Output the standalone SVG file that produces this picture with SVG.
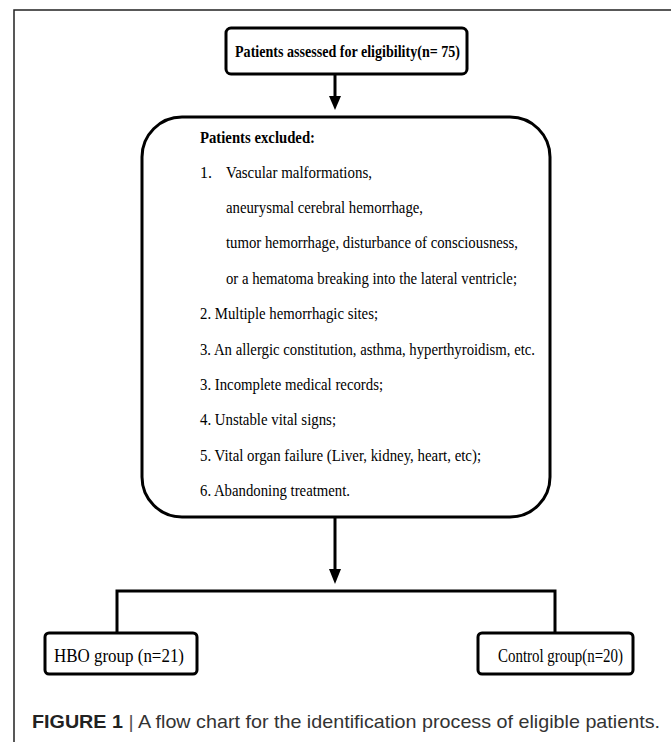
<svg xmlns="http://www.w3.org/2000/svg" width="671" height="742" viewBox="0 0 671 742">
<style>
.box{fill:#fff;stroke:#000;stroke-width:3}
.ln{fill:none;stroke:#000;stroke-width:3}
.t{font-family:"Liberation Serif","Times New Roman",serif;font-size:16px;fill:#000}
.b{font-weight:bold}
.cap{font-family:"Liberation Sans",Arial,sans-serif;font-size:19px;fill:#333}
</style>
<rect x="0" y="0" width="671" height="742" fill="#fff"/>
<path d="M14,742 V10 H671" fill="none" stroke="#222" stroke-width="1.5"/>

<g id="connectors">
<line class="ln" x1="335" y1="74" x2="335" y2="96"/>
<path d="M329,96 L341,96 L335,110 Z" fill="#000"/>
<line class="ln" x1="335" y1="517" x2="335" y2="570"/>
<path d="M329,569 L341,569 L335,584 Z" fill="#000"/>
<path class="ln" d="M117,633 V591 H555 V633"/>
</g>

<g id="node-assessed">
<rect class="box" x="226" y="28" width="241" height="46" rx="5"/>
<text class="t b" x="235" y="57" textLength="225" lengthAdjust="spacingAndGlyphs" style="font-size:17.5px">Patients assessed for eligibility(n= 75)</text>
</g>

<g id="node-excluded">
<rect class="box" x="142" y="117" width="408" height="400" rx="40"/>
<text class="t b" x="200" y="142.5" textLength="115" lengthAdjust="spacingAndGlyphs">Patients excluded:</text>
<text class="t" x="200" y="177.5">1.</text>
<text class="t" x="226" y="177.5" textLength="146" lengthAdjust="spacingAndGlyphs">Vascular malformations,</text>
<text class="t" x="226" y="212.9" textLength="197" lengthAdjust="spacingAndGlyphs">aneurysmal cerebral hemorrhage,</text>
<text class="t" x="226" y="248.3" textLength="292" lengthAdjust="spacingAndGlyphs">tumor hemorrhage, disturbance of consciousness,</text>
<text class="t" x="226" y="283.7" textLength="291" lengthAdjust="spacingAndGlyphs">or a hematoma breaking into the lateral ventricle;</text>
<text class="t" x="200" y="319.1" textLength="178" lengthAdjust="spacingAndGlyphs">2. Multiple hemorrhagic sites;</text>
<text class="t" x="200" y="354.5" textLength="335" lengthAdjust="spacingAndGlyphs">3. An allergic constitution, asthma, hyperthyroidism, etc.</text>
<text class="t" x="200" y="389.9" textLength="183" lengthAdjust="spacingAndGlyphs">3. Incomplete medical records;</text>
<text class="t" x="200" y="425.3" textLength="136" lengthAdjust="spacingAndGlyphs">4. Unstable vital signs;</text>
<text class="t" x="200" y="460.7" textLength="281" lengthAdjust="spacingAndGlyphs">5. Vital organ failure (Liver, kidney, heart, etc);</text>
<text class="t" x="200" y="496.1" textLength="150" lengthAdjust="spacingAndGlyphs">6. Abandoning treatment.</text>
</g>

<g id="node-hbo">
<rect class="box" x="45" y="633" width="152" height="41" rx="4"/>
<text class="t" x="54" y="662" style="font-size:18px" textLength="130" lengthAdjust="spacingAndGlyphs">HBO group (n=21)</text>
</g>

<g id="node-control">
<rect class="box" x="478" y="633" width="155" height="41" rx="4"/>
<text class="t" x="498" y="662" style="font-size:18px" textLength="125" lengthAdjust="spacingAndGlyphs">Control group(n=20)</text>
</g>

<text class="cap" x="32" y="728" textLength="628" lengthAdjust="spacingAndGlyphs"><tspan font-weight="bold" fill="#222">FIGURE 1</tspan><tspan fill="#555"> | </tspan>A flow chart for the identification process of eligible patients.</text>
</svg>
